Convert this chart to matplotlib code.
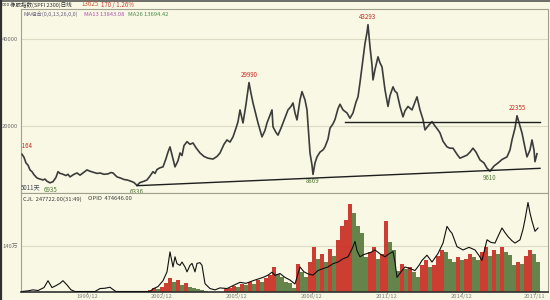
import numpy as np
import matplotlib
matplotlib.use("Agg")
import matplotlib.pyplot as plt
from matplotlib.lines import Line2D

plt.rcParams['font.family'] = ['Noto Sans CJK SC', 'DejaVu Sans']

# 价格（日线收盘，按图读取）：时间为小数年
price_t = [1997.32, 1997.40, 1997.48, 1997.56, 1997.64, 1997.72, 1997.80, 1997.92, 1998.04, 1998.16,
           1998.24, 1998.32, 1998.44, 1998.56, 1998.68, 1998.76, 1998.84, 1998.92, 1999.08, 1999.16,
           1999.24, 1999.40, 1999.52, 1999.64, 1999.80, 1999.92, 2000.04, 2000.20, 2000.32, 2000.44,
           2000.60, 2000.76, 2000.88, 2000.96, 2001.12, 2001.28, 2001.40, 2001.52, 2001.68, 2001.80,
           2001.92, 2002.04, 2002.20, 2002.32, 2002.44, 2002.56, 2002.64, 2002.72, 2002.84, 2002.96,
           2003.08, 2003.16, 2003.24, 2003.36, 2003.44, 2003.56, 2003.64, 2003.72, 2003.80, 2003.92,
           2004.04, 2004.16, 2004.28, 2004.44, 2004.60, 2004.76, 2004.96, 2005.12, 2005.24, 2005.40,
           2005.52, 2005.64, 2005.76, 2005.88, 2005.96, 2006.04, 2006.16, 2006.28, 2006.40, 2006.48,
           2006.56, 2006.68, 2006.76, 2006.92, 2007.04, 2007.12, 2007.24, 2007.32, 2007.36, 2007.48,
           2007.56, 2007.68, 2007.76, 2007.88, 2007.96, 2008.08, 2008.16, 2008.24, 2008.32, 2008.44,
           2008.52, 2008.64, 2008.72, 2008.80, 2008.84, 2008.92, 2008.96, 2009.04, 2009.12, 2009.24,
           2009.36, 2009.44, 2009.56, 2009.64, 2009.76, 2009.84, 2009.96, 2010.04, 2010.16, 2010.32,
           2010.44, 2010.56, 2010.68, 2010.76, 2010.84, 2010.92, 2011.00, 2011.04, 2011.12, 2011.16,
           2011.24, 2011.32, 2011.36, 2011.44, 2011.56, 2011.64, 2011.72, 2011.84, 2011.96, 2012.04,
           2012.16, 2012.24, 2012.32, 2012.44, 2012.56, 2012.64, 2012.76, 2012.92, 2013.04, 2013.12,
           2013.24, 2013.36, 2013.44, 2013.56, 2013.72, 2013.84, 2013.96, 2014.04, 2014.16, 2014.32,
           2014.44, 2014.56, 2014.72, 2014.84, 2015.00, 2015.12, 2015.24, 2015.36, 2015.48, 2015.64,
           2015.80, 2015.92, 2016.04, 2016.20, 2016.36, 2016.52, 2016.72, 2016.84, 2016.92, 2017.04,
           2017.12, 2017.24, 2017.32, 2017.44, 2017.52, 2017.64, 2017.72, 2017.80, 2017.84, 2017.92]
price_v = [13500, 12800, 11500, 11000, 9900, 9500, 8800, 8050, 7800, 7600,
           7800, 7300, 6935, 7200, 8200, 9500, 9100, 9000, 8600, 8900,
           8300, 8900, 9200, 8700, 9400, 9900, 9600, 9300, 9100, 9200,
           8900, 9000, 9300, 9200, 8300, 8000, 7700, 7600, 7300, 7000,
           6336, 7000, 7300, 7600, 8500, 9500, 9100, 10000, 10400, 10600,
           12500, 14000, 15200, 12500, 10600, 12000, 13800, 13200, 15500, 16400,
           15800, 16100, 15000, 13800, 13000, 12600, 12400, 13000, 13800, 15800,
           16800, 16300, 17500, 19500, 21000, 23700, 20700, 25000, 29990, 27500,
           25300, 22500, 20700, 17500, 19000, 20700, 22500, 23700, 19800, 18500,
           17900, 19500, 20700, 22500, 23700, 24500, 25300, 23000, 21400, 26000,
           27900, 26000, 23700, 17000, 13800, 11000, 8869, 11500, 12900, 14000,
           14500, 15200, 17000, 19500, 20500, 21500, 24000, 25000, 23700, 23000,
           21800, 23000, 25500, 26700, 30000, 33600, 37000, 39000, 41500, 43293,
           38200, 34000, 30600, 33000, 35900, 34500, 33600, 28300, 24500, 27000,
           29000, 28000, 27600, 24500, 22100, 23500, 24500, 23700, 25500, 26700,
           23700, 21500, 19100, 20000, 21000, 20000, 19100, 18400, 16500, 15200,
           14900, 14900, 13500, 12600, 13000, 13300, 14000, 14900, 14000, 12200,
           11500, 10300, 9610, 10800, 11500, 12300, 12900, 14500, 16800, 19500,
           22355, 20000, 18400, 15000, 12900, 14500, 16800, 14500, 11800, 13625]

# 趋势线
support_t = [2001.92, 2018.04]
support_v = [6280, 10270]
resist_t = [2010.24, 2018.04]
resist_v = [21000, 21000]

# 成交量（万），两段
vol_early_t = np.arange(2002.44, 2004.70, 0.16)
vol_early = [5, 10, 8, 15, 25, 40, 30, 35, 20, 25, 15, 12, 8, 5, 3]
vol_late_t = np.arange(2005.48, 2017.98, 0.16)
vol_late = [8, 12, 18, 15, 24, 20, 28, 22, 35, 30, 42, 50, 75, 55, 43, 30, 25, 12, 85, 60,
            43, 90, 137, 100, 116, 90, 131, 110, 158, 199, 220, 267, 241, 199, 178, 106, 120, 137, 100, 116,
            215, 150, 127, 64, 85, 70, 75, 60, 43, 80, 95, 75, 80, 110, 127, 122, 100, 90, 106, 95,
            100, 116, 105, 95, 120, 137, 110, 127, 115, 137, 120, 111, 80, 90, 85, 110, 127, 116, 90]

# 持仓量（万）
oi_t = [1997.32, 1997.56, 1997.76, 1997.96, 1998.20, 1998.36, 1998.52, 1998.68, 1998.84, 1998.96,
        1999.12, 1999.28, 1999.44, 2000.24, 2000.44, 2000.64, 2000.84, 2000.96, 2001.08, 2002.44,
        2002.56, 2002.76, 2002.96, 2003.12, 2003.24, 2003.32, 2003.36, 2003.44, 2003.52, 2003.64,
        2003.72, 2003.84, 2003.92, 2004.04, 2004.12, 2004.24, 2004.32, 2004.44, 2004.52, 2004.64,
        2004.84, 2005.04, 2005.24, 2005.52, 2005.76, 2006.04, 2006.28, 2006.56, 2006.76, 2006.96,
        2007.16, 2007.32, 2007.44, 2007.64, 2007.84, 2008.04, 2008.24, 2008.44, 2008.60, 2008.76,
        2008.96, 2009.16, 2009.36, 2009.56, 2009.76, 2009.96, 2010.16, 2010.36, 2010.52, 2010.64,
        2010.72, 2010.84, 2010.96, 2011.12, 2011.28, 2011.44, 2011.64, 2011.84, 2012.00, 2012.16,
        2012.24, 2012.32, 2012.48, 2012.64, 2012.84, 2013.04, 2013.20, 2013.32, 2013.52, 2013.72,
        2013.96, 2014.08, 2014.16, 2014.32, 2014.44, 2014.52, 2014.72, 2014.96, 2015.20, 2015.44,
        2015.60, 2015.72, 2015.92, 2016.08, 2016.24, 2016.40, 2016.52, 2016.64, 2016.76, 2016.92,
        2017.04, 2017.24, 2017.36, 2017.44, 2017.56, 2017.64, 2017.72, 2017.84, 2017.96]
oi_v = [0, 2, 5, 3, 12, 33, 12, 18, 25, 33,
        20, 5, 0, 0, 9, 10, 13, 6, 0, 0,
        8, 15, 33, 60, 121, 90, 75, 106, 85, 80,
        90, 75, 60, 80, 86, 60, 86, 88, 80, 24,
        9, 5, 11, 9, 18, 28, 25, 33, 38, 43,
        50, 59, 49, 55, 43, 35, 23, 75, 60, 54,
        50, 64, 70, 75, 85, 90, 100, 106, 130, 153,
        125, 106, 112, 116, 120, 127, 115, 106, 115, 122,
        90, 43, 60, 75, 70, 64, 80, 95, 111, 90,
        116, 135, 148, 199, 185, 178, 137, 127, 135, 127,
        110, 95, 158, 150, 148, 175, 194, 180, 168, 155,
        148, 158, 190, 220, 272, 240, 215, 184, 194]

tick_labels = ["1999/12", "2002/12", "2005/12", "2008/12", "2011/12", "2014/12", "2017/11"]
tick_pos = [int(s[:4]) + (int(s[5:]) - 1) / 12 for s in tick_labels]

BG = "#f8f8e4"
GRID = "#dcdcc4"
AXC = "#a0a090"
RED = "#c8281e"
GREEN = "#55783a"

W, H = 550, 300


def fx(px):
    return px / W


def fy(py):
    return 1 - py / H


fig = plt.figure(figsize=(5.5, 3), dpi=100, facecolor=BG)

# 主图
ax = fig.add_axes([fx(21), fy(193), fx(527), 184 / H], facecolor=BG)
ax.set_xlim(1997.28, 2018.36)
ax.set_ylim(4598, 46897)
for v in (20000, 40000):
    ax.axhline(v, color=GRID, lw=0.8, zorder=0)
ax.plot(price_t, price_v, color="#3c3c3c", lw=1.2, zorder=3)
ax.plot(support_t, support_v, color="#1e1e1e", lw=1.0, zorder=4)
ax.plot(resist_t, resist_v, color="#1e1e1e", lw=1.0, zorder=4)

# 高低点标注
hi = [(price_t[i], price_v[i]) for i in (price_v.index(29990), price_v.index(43293), price_v.index(22355))]
for t, v in hi:
    ax.annotate(f"{v}", (t, v), xytext=(0, 2.5), textcoords="offset points", ha="center", va="bottom",
                fontsize=4.4, color=RED)
lo = [(price_t[i], price_v[i]) for i in (price_v.index(6935), price_v.index(6336), price_v.index(8869), price_v.index(9610))]
for t, v in lo:
    ax.annotate(f"{v}", (t, v), xytext=(0, -2), textcoords="offset points", ha="center", va="top",
                fontsize=4.4, color=GREEN)
ax.annotate("14164", (price_t[0], price_v[0]), xytext=(7.5, 3), textcoords="offset points", ha="right",
            va="bottom", fontsize=4.4, color=RED, annotation_clip=False, clip_on=True)
ax.text(0.0, 0.01, "5011天", transform=ax.transAxes, fontsize=4.4, color="#404858", va="bottom", ha="left")

ax.set_yticks([20000, 40000])
ax.set_yticklabels(["20000", "40000"])
ax.tick_params(axis="y", length=0, pad=2, labelsize=4.2, labelcolor="#707070")
ax.set_xticks([])
for s in ax.spines.values():
    s.set_color(AXC)
    s.set_linewidth(0.8)

# 副图：成交量与持仓
ax2 = fig.add_axes([fx(21), fy(291.5), fx(527), 98.5 / H], facecolor=BG)
ax2.set_xlim(1997.28, 2018.36)
ax2.set_ylim(0, 301)
ax2.axhline(140, color=GRID, lw=0.8, zorder=0)
for bt, bv in ((vol_early_t, vol_early), (vol_late_t, vol_late)):
    cols = [RED if i == 0 or bv[i] >= bv[i - 1] else GREEN for i in range(len(bv))]
    ax2.bar(bt, bv, width=0.15, color=cols, alpha=0.9, linewidth=0, zorder=2)
ax2.plot(oi_t, oi_v, color="#111111", lw=0.8, zorder=3)
ax2.set_yticks([140])
ax2.set_yticklabels(["140万"])
ax2.tick_params(axis="y", length=0, pad=2, labelsize=4.2, labelcolor="#707070")
ax2.set_xticks(tick_pos)
ax2.set_xticklabels(tick_labels)
ax2.tick_params(axis="x", length=1.5, pad=0.3, labelsize=4.2, labelcolor="#808080", color=AXC)
for s in ax2.spines.values():
    s.set_color(AXC)
    s.set_linewidth(0.8)
ax2.spines["bottom"].set_color("#303030")
ax2.spines["bottom"].set_linewidth(1.2)

# 标题栏与图例文字
fig.add_artist(Line2D([0, 1], [fy(0.5), fy(0.5)], color="#555555", lw=1.2))
fig.add_artist(Line2D([fx(0.8), fx(0.8)], [0, 1], color="#303030", lw=1.6))
fig.text(fx(2), fy(4.5), "ooo", fontsize=3.2, color="#303030", va="center")
fig.text(fx(10), fy(4.5), "橡胶指数(SPFI 2300)日线", fontsize=4.0, color="#303030", va="center")
fig.text(fx(82), fy(4.5), "13625", fontsize=4.4, color="#c85a30", va="center")
fig.text(fx(101), fy(4.5), "170 / 1.26%", fontsize=4.4, color="#c8403a", va="center")
fig.text(fx(23), fy(14), "MA组合(0,0,13,26,0,0)", fontsize=4.0, color="#6a6080", va="center")
fig.text(fx(84), fy(14), "MA13 13843.08", fontsize=4.2, color="#b050b0", va="center")
fig.text(fx(128), fy(14), "MA26 13694.42", fontsize=4.2, color="#4a8a4a", va="center")
fig.text(fx(23), fy(199), "CJL  247722.00(31:49)", fontsize=4.2, color="#404040", va="center")
fig.text(fx(88), fy(199), "OPID  474646.00", fontsize=4.2, color="#404040", va="center")

fig.savefig("out.png", dpi=100, facecolor=BG)
